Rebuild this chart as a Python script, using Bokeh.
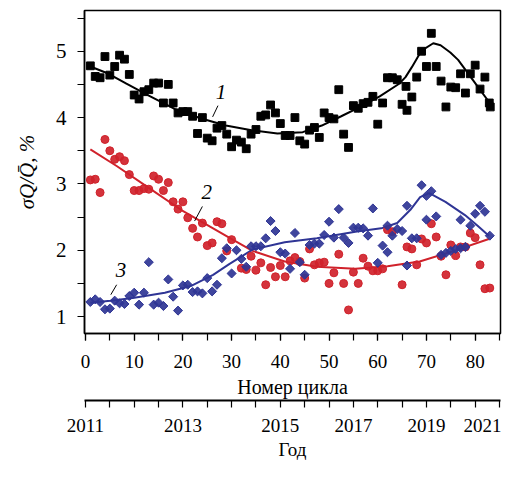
import math
from bokeh.plotting import figure
from bokeh.models import (Range1d, LinearAxis, FixedTicker, Label)
from bokeh.embed import file_html
from bokeh.resources import INLINE

# ---- data ----
black_c = [1, 2, 3, 4, 5, 6, 7, 8, 9, 10, 11, 12, 13, 14, 15, 16, 17, 18, 19, 20,
           21, 22, 23, 24, 25, 26, 27, 28, 29, 30, 31, 32, 33, 34, 35, 36, 37, 38, 39, 40,
           41, 42, 43, 44, 45, 46, 47, 48, 49, 50, 51, 52, 53, 54, 55, 56, 57, 58, 59, 60,
           61, 62, 63, 64, 65, 65.8, 66, 67, 68, 69, 70, 71, 72, 73, 74, 75, 76, 77, 78, 79,
           80, 81, 82, 82.9, 83.1]
black_v = [4.78, 4.62, 4.60, 4.92, 4.64, 4.77, 4.94, 4.88, 4.65, 4.34, 4.28, 4.39, 4.42, 4.52, 4.52, 4.22, 4.50, 4.22, 4.07, 4.09,
           4.09, 4.02, 3.76, 4.00, 3.69, 3.65, 3.84, 3.88, 3.75, 3.56, 3.66, 3.63, 3.53, 3.75, 3.82, 4.02, 4.04, 4.19, 4.07, 3.91,
           3.73, 3.73, 4.00, 3.65, 3.60, 3.81, 3.85, 3.70, 4.07, 4.00, 3.98, 4.42, 3.75, 3.55, 4.18, 4.14, 4.21, 4.23, 4.32, 3.90,
           4.22, 4.60, 4.60, 4.57, 4.20, 4.47, 4.11, 4.31, 4.61, 5.00, 4.77, 5.27, 4.77, 4.55, 4.16, 4.46, 4.45, 4.66, 4.37, 4.66,
           4.79, 4.43, 4.61, 4.22, 4.16]

red_c = [1, 2, 3, 4, 5, 6, 7, 8, 9, 10, 11, 12, 13, 14, 15, 16, 17, 18, 19, 20,
         21, 22, 23, 24, 25, 26, 27, 28, 29, 30, 32, 33, 34, 35, 36, 37, 38, 39, 40,
         41, 42, 43, 44, 45, 46, 47, 48, 49, 50, 51, 52, 53, 54, 55, 56, 57, 58, 59, 60,
         61, 62, 63, 65, 66, 67, 68, 69, 70, 71, 72, 73, 74, 75, 76, 77, 78, 79, 80,
         81, 82, 83]
red_v = [3.06, 3.07, 2.87, 3.67, 3.50, 3.37, 3.41, 3.35, 3.14, 2.90, 2.90, 2.93, 2.92, 3.12, 3.07, 2.90, 3.02, 2.73, 2.62, 2.73,
         2.49, 2.33, 2.20, 2.41, 2.07, 2.11, 2.43, 2.40, 1.99, 2.16, 1.73, 1.71, 1.91, 1.70, 1.81, 1.48, 1.74, 1.60, 1.77,
         1.60, 1.84, 1.89, 1.83, 1.58, 2.02, 1.78, 1.81, 1.82, 1.50, 1.66, 1.94, 1.50, 1.10, 1.67, 1.50, 1.88, 1.76, 1.69, 1.69,
         1.72, 2.31, 2.28, 1.48, 2.05, 2.02, 1.78, 2.17, 2.11, 2.40, 2.20, 1.91, 1.63, 2.08, 1.92, 2.05, 2.05, 2.26, 2.19,
         1.78, 1.42, 1.43]

blue_c = [1, 2, 3, 4, 5, 6, 7, 8, 9, 10, 11, 12, 13, 14, 15, 16, 17, 18, 19, 20,
          21, 22, 23, 24, 25, 26, 27, 28, 29, 30, 31, 32, 33, 34, 35, 36, 37, 38, 39, 40,
          41, 42, 43, 44, 45, 46, 47, 48, 49, 50, 51, 52, 53, 54, 55, 56, 57, 58, 59, 60,
          61, 62, 62, 63, 64, 65, 66, 66, 67, 68, 69, 70, 70, 71, 72, 73, 74, 75, 76, 77,
          77, 78, 79, 80, 81, 82, 83]
blue_v = [1.22, 1.26, 1.22, 1.11, 1.12, 1.24, 1.20, 1.19, 1.31, 1.36, 1.18, 1.36, 1.82, 1.18, 1.21, 1.16, 1.56, 1.30, 1.09, 1.47,
          1.48, 1.37, 1.38, 1.35, 1.58, 1.38, 1.48, 1.88, 2.03, 1.65, 2.00, 1.87, 1.75, 2.06, 2.06, 2.06, 2.18, 2.44, 2.29, 1.97,
          1.95, 1.72, 2.26, 1.82, 1.63, 2.08, 2.10, 2.10, 2.23, 2.43, 2.19, 2.62, 2.19, 2.11, 2.34, 2.34, 2.33, 2.22, 2.63, 1.81,
          2.07, 1.97, 2.37, 2.22, 2.32, 2.29, 1.77, 2.67, 2.18, 2.18, 2.98, 2.82, 2.46, 2.89, 2.51, 1.93, 1.96, 1.99, 2.02, 2.03,
          2.46, 2.05, 2.37, 2.55, 2.67, 2.58, 2.22]

fit1_c = [1, 4.75, 8.4, 13, 18.3, 23.6, 28.8, 34.1, 39.4, 44.6, 48.5, 52.5, 56.4, 60.4, 64.4, 65.7, 67, 69, 71.4, 72.9, 74.9, 76.5, 78.2, 80.9, 83]
fit1_v = [4.77, 4.66, 4.51, 4.33, 4.13, 3.99, 3.88, 3.81, 3.76, 3.78, 3.88, 4.02, 4.16, 4.32, 4.51, 4.61, 4.76, 5.01, 5.12, 5.09, 4.98, 4.87, 4.70, 4.43, 4.22]

fit2_c = [1, 6.4, 13, 19.6, 26.2, 29.5, 34.3, 40.9, 47.5, 55.4, 62, 68.6, 75.2, 82.8]
fit2_v = [3.52, 3.27, 2.94, 2.61, 2.33, 2.19, 1.99, 1.83, 1.75, 1.72, 1.76, 1.83, 1.98, 2.17]

fit3_c = [1, 5.1, 9.7, 16.3, 21.6, 26.2, 29.5, 34.3, 40.9, 47.5, 55.4, 60.7, 64, 66.7, 68.7, 70.6, 73.9, 77.9, 80.5, 82.8]
fit3_v = [1.21, 1.24, 1.28, 1.36, 1.46, 1.63, 1.79, 2.01, 2.12, 2.18, 2.28, 2.33, 2.41, 2.61, 2.80, 2.86, 2.73, 2.53, 2.37, 2.22]

curve_names = ["1", "2", "3"]
cycle_ticks = [0, 10, 20, 30, 40, 50, 60, 70, 80]
cycle_minor = [0, 5, 10, 15, 20, 25, 30, 35, 40, 45, 50, 55, 60, 65, 70, 75, 80, 85]
year_pos = [0, 20, 40, 55, 70, 81.5]
year_labels = ["2011", "2013", "2015", "2017", "2019", "2021"]
y_ticks = [1, 2, 3, 4, 5]
y_minor = [1.5, 2.5, 3.5, 4.5, 5.5]

RED = "#d0222b"
BLUE = "#2f3595"
FONT = "Liberation Serif"

p = figure(width=503, height=465, output_backend="svg", toolbar_location=None,
           x_range=Range1d(-0.2, 85.2), y_range=Range1d(0.745, 5.614),
           min_border_left=84, min_border_right=3, min_border_top=10, min_border_bottom=132)
p.xgrid.visible = False
p.ygrid.visible = False
p.outline_line_color = "black"
p.outline_line_width = 1.5

# fitted curves
p.line(fit1_c, fit1_v, line_color="black", line_width=2)
p.line(fit2_c, fit2_v, line_color=RED, line_width=2)
p.line(fit3_c, fit3_v, line_color=BLUE, line_width=2)

# data points
p.scatter(red_c, red_v, marker="circle", size=8, fill_color=RED, line_color=RED, fill_alpha=0.92)
p.scatter(blue_c, blue_v, marker="square", size=6.4, angle=math.pi / 4,
          fill_color=BLUE, line_color=BLUE, fill_alpha=0.92)
p.scatter(black_c, black_v, marker="square", size=7.8, fill_color="black", line_color="black")

# curve labels with leaders
label_pos = [(27.8, 4.39), (24.9, 2.88), (7.3, 1.70)]
leaders = [(27.2, 4.18, 26.1, 4.01), (24.0, 2.66, 22.4, 2.44), (6.4, 1.48, 5.2, 1.33)]
for txt, (lx, ly), seg in zip(curve_names, label_pos, leaders):
    p.add_layout(Label(x=lx, y=ly, text=txt, text_font=FONT, text_font_style="italic",
                       text_color="black", text_font_size="21px",
                       text_align="center", text_baseline="middle"))
    p.segment(x0=[seg[0]], y0=[seg[1]], x1=[seg[2]], y1=[seg[3]], line_color="black", line_width=1)

# main axes
xa = p.xaxis[0]
xa.ticker = FixedTicker(ticks=cycle_ticks, minor_ticks=cycle_minor)
xa.axis_label = "Номер цикла"
ya = p.yaxis[0]
ya.ticker = FixedTicker(ticks=y_ticks, minor_ticks=y_minor)
ya.axis_label = "σQ/Q̄, %"
for ax in (xa, ya):
    ax.major_label_text_font = FONT
    ax.axis_label_text_font = FONT
    ax.axis_label_text_font_style = "normal"
    ax.axis_line_width = 1.5
    ax.major_tick_in = 0
    ax.major_tick_out = 7
    ax.minor_tick_in = 0
    ax.minor_tick_out = 7
    ax.major_tick_line_width = 1.2
    ax.minor_tick_line_width = 1.2
    ax.major_label_text_color = "black"
    ax.axis_label_text_color = "black"
xa.major_label_text_font_size = "19px"
xa.axis_label_text_font_size = "20px"
xa.major_label_standoff = 14
xa.axis_label_standoff = 5
ya.major_label_text_font_size = "21px"
ya.axis_label_text_font_size = "21px"
ya.major_label_standoff = 11
ya.axis_label_standoff = 14
ya.axis_label_text_font_style = "italic"

# spacer between the two bottom axes
sp = LinearAxis(ticker=FixedTicker(ticks=[], minor_ticks=[]))
sp.axis_line_color = None
sp.major_tick_line_color = None
sp.minor_tick_line_color = None
sp.major_tick_in = 0
sp.major_tick_out = 13
sp.minor_tick_in = 0
sp.minor_tick_out = 0
sp.major_label_standoff = 0
p.add_layout(sp, "below")

# year axis
yr = LinearAxis(ticker=FixedTicker(ticks=year_pos, minor_ticks=cycle_minor),
                major_label_overrides={pos: lab for pos, lab in zip(year_pos, year_labels)},
                axis_label="Год")
yr.axis_line_width = 2.2
yr.major_tick_line_color = None
yr.major_tick_out = 7
yr.major_tick_in = 0
yr.minor_tick_in = 0
yr.minor_tick_out = 7
yr.minor_tick_line_width = 1.2
yr.major_label_standoff = 11
yr.axis_label_standoff = 4
yr.major_label_text_font = FONT
yr.major_label_text_font_size = "19px"
yr.axis_label_text_font = FONT
yr.axis_label_text_font_size = "19px"
yr.axis_label_text_font_style = "normal"
yr.major_label_text_color = "black"
yr.axis_label_text_color = "black"
p.add_layout(yr, "below")

open("out.html", "w").write(file_html(p, INLINE))
